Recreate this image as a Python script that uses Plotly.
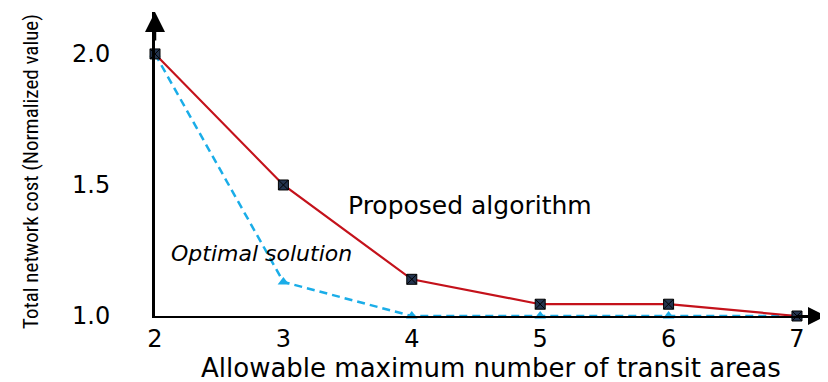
import plotly.graph_objects as go

x_vals = [2, 3, 4, 5, 6, 7]
proposed = [2.0, 1.50, 1.14, 1.045, 1.045, 1.0]
optimal = [2.0, 1.13, 1.0, 1.0, 1.0, 1.0]
x_ticks = [2, 3, 4, 5, 6, 7]
y_ticks = [1.0, 1.5, 2.0]
y_tick_text = ["1.0", "1.5", "2.0"]

fig = go.Figure()
fig.add_trace(go.Scatter(
    x=x_vals, y=optimal, mode="lines+markers",
    line=dict(color="#1AADE8", width=2.5, dash="8px,5px"),
    marker=dict(symbol="triangle-up", size=10, color="#1AADE8"),
    cliponaxis=False, showlegend=False))
fig.add_trace(go.Scatter(
    x=x_vals, y=proposed, mode="lines+markers",
    line=dict(color="#C4121B", width=2.2),
    marker=dict(symbol="square-x", size=10, color="#24344F",
                line=dict(color="#000000", width=1)),
    cliponaxis=False, showlegend=False))

tick_font = dict(family="DejaVu Sans, Liberation Sans", size=24, color="#000")
fig.update_layout(
    width=820, height=374,
    margin=dict(l=147, r=2, t=4, b=66, autoexpand=False),
    paper_bgcolor="white", plot_bgcolor="white",
    xaxis=dict(range=[2, 7.226], tickvals=x_ticks, showgrid=False, zeroline=False,
               showline=True, linecolor="black", linewidth=2, ticks="",
               tickfont=tick_font, ticklabelstandoff=0, automargin=False),
    yaxis=dict(range=[1.0, 2.160], tickvals=y_ticks, ticktext=y_tick_text,
               showgrid=False, zeroline=False,
               showline=True, linecolor="black", linewidth=3, ticks="",
               tickfont=tick_font, ticklabelstandoff=37, automargin=False),
    annotations=[
        dict(x=0, y=1, xref="paper", yref="paper", ax=0, ay=30, text="",
             showarrow=True, arrowhead=2, arrowsize=1.6, arrowwidth=2.5, arrowcolor="black"),
        dict(x=1, y=0, xref="paper", yref="paper", ax=-30, ay=0, text="",
             showarrow=True, arrowhead=2, arrowsize=1.8, arrowwidth=2, arrowcolor="black"),
        dict(x=0.5, y=0, xref="paper", yref="paper", xanchor="center", yanchor="top",
             yshift=-35, text="Allowable maximum number of transit areas", showarrow=False,
             font=dict(family="DejaVu Sans, Liberation Sans", size=26, color="#000")),
        dict(x=0, y=0.5, xref="paper", yref="paper", xanchor="center", yanchor="middle",
             xshift=-124, yshift=-8, textangle=-90, text="Total network cost (Normalized value)",
             showarrow=False,
             font=dict(family="Liberation Sans Narrow, Roboto Condensed, Liberation Sans",
                       size=21, color="#000")),
        dict(x=4.45, y=1.42, xref="x", yref="y", text="Proposed algorithm", showarrow=False,
             font=dict(family="DejaVu Sans, Liberation Sans", size=25, color="#000")),
        dict(x=2.83, y=1.237, xref="x", yref="y", text="<i>Optimal solution</i>", showarrow=False,
             font=dict(family="DejaVu Sans, Liberation Sans", size=22, color="#000")),
    ],
)

fig.write_html("out.html")
